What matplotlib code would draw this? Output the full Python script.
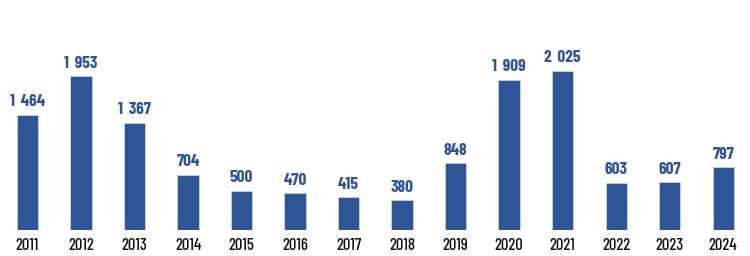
import matplotlib
matplotlib.use('Agg')
import matplotlib.pyplot as plt

years = ['2011', '2012', '2013', '2014', '2015', '2016', '2017',
         '2018', '2019', '2020', '2021', '2022', '2023', '2024']
values = [1464, 1953, 1367, 704, 500, 470, 415, 380, 848, 1909, 2025, 603, 607, 797]

plt.rcParams['font.family'] = ['Barlow Condensed', 'DejaVu Sans']

bar_color = '#2f5597'

fig = plt.figure(figsize=(7.5, 2.56), dpi=100)
ax = fig.add_axes([0.001, 0.1016, 0.999, 0.8984])
x = range(len(years))
ax.bar(x, values, width=0.4, color=bar_color, edgecolor='#c9d3e6', linewidth=0.6)

for xi, v in zip(x, values):
    # thousands separated by a slightly wider space, as in the source
    label = f'{v:,}'.replace(',', '\u2004')
    ax.text(xi, v + 70, label, ha='center', va='bottom', fontsize=12.5,
            fontweight='bold', color=bar_color)

ax.set_xlim(-0.5, 13.5)
ax.set_ylim(0, 2926)
ax.set_xticks(list(x))
ax.set_xticklabels(years, fontsize=12, fontweight='medium', color='#111111')
ax.tick_params(axis='x', length=0, pad=6)
ax.set_yticks([])
for s in ax.spines.values():
    s.set_visible(False)

fig.savefig('out.png', dpi=100)
